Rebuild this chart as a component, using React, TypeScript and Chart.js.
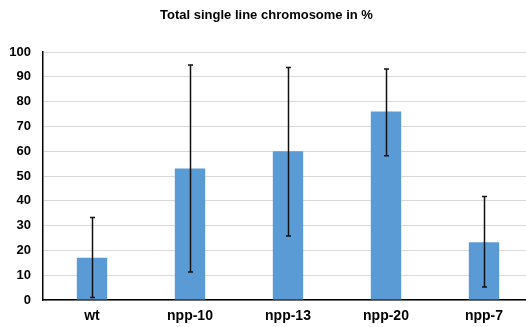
import React, { useEffect, useRef } from "react";
import { Chart, registerables } from "chart.js";

Chart.register(...registerables);

const categories = ["wt", "npp-10", "npp-13", "npp-20", "npp-7"];
const means = [17, 53, 60, 76, 23.3];
const errLow = [1, 11.3, 25.8, 58.2, 5.2];
const errHigh = [33.3, 94.8, 93.8, 93.1, 41.7];
const yTicks = [0, 10, 20, 30, 40, 50, 60, 70, 80, 90, 100];
const titleText = "Total single line chromosome in %";

const FONT = "'Liberation Sans', Arial, sans-serif";

const errorBarPlugin = {
  id: "errorBars",
  afterDatasetsDraw(chart: any) {
    const ctx = chart.ctx;
    const xs = chart.scales.x;
    const ys = chart.scales.y;
    ctx.save();
    ctx.strokeStyle = "#111111";
    ctx.lineWidth = 1.5;
    for (let i = 0; i < categories.length; i++) {
      const x = Math.round(xs.getPixelForValue(i)) + 0.5;
      const yl = ys.getPixelForValue(errLow[i]);
      const yh = ys.getPixelForValue(errHigh[i]);
      ctx.beginPath();
      ctx.moveTo(x, yl);
      ctx.lineTo(x, yh);
      ctx.moveTo(x - 2.5, yl);
      ctx.lineTo(x + 2.5, yl);
      ctx.moveTo(x - 2.5, yh);
      ctx.lineTo(x + 2.5, yh);
      ctx.stroke();
    }
    ctx.restore();
  },
};

export default function App() {
  const ref = useRef<HTMLCanvasElement | null>(null);
  useEffect(() => {
    if (!ref.current) return;
    const chart = new Chart(ref.current, {
      type: "bar",
      data: {
        labels: categories,
        datasets: [
          {
            data: means,
            backgroundColor: "#5b9bd5",
            borderWidth: 0,
            barPercentage: 1,
            categoryPercentage: 0.31,
          },
        ],
      },
      options: {
        animation: false,
        responsive: false,
        devicePixelRatio: 1,
        layout: { padding: { left: 0, right: 8, top: 0, bottom: 0 } },
        plugins: {
          legend: { display: false },
          tooltip: { enabled: false },
          title: {
            display: true,
            text: titleText,
            color: "#000000",
            font: { family: FONT, size: 13, weight: "bold" },
            padding: { top: 8, bottom: 28.4 },
          },
        },
        scales: {
          x: {
            grid: { display: false, drawTicks: false },
            border: { color: "#000000", width: 1.5 },
            ticks: {
              color: "#000000",
              font: { family: FONT, size: 14, weight: "bold" },
              padding: 8,
            },
            afterFit: (s: any) => {
              s.height = 27;
            },
          },
          y: {
            min: 0,
            max: 100,
            afterBuildTicks: (s: any) => {
              s.ticks = yTicks.map((v) => ({ value: v }));
            },
            grid: { color: "#d9d9d9", lineWidth: 1, drawTicks: false },
            border: { color: "#000000", width: 1.5 },
            ticks: {
              color: "#000000",
              font: { family: FONT, size: 13, weight: "bold" },
              padding: 12,
            },
            afterFit: (s: any) => {
              s.width = 43;
            },
          },
        },
      },
      plugins: [errorBarPlugin],
    });
    return () => chart.destroy();
  }, []);
  return (
    <div style={{ position: "absolute", left: 0, top: 0, width: 541, height: 327, background: "#fff" }}>
      <canvas ref={ref} width={541} height={327} style={{ display: "block" }} />
    </div>
  );
}
